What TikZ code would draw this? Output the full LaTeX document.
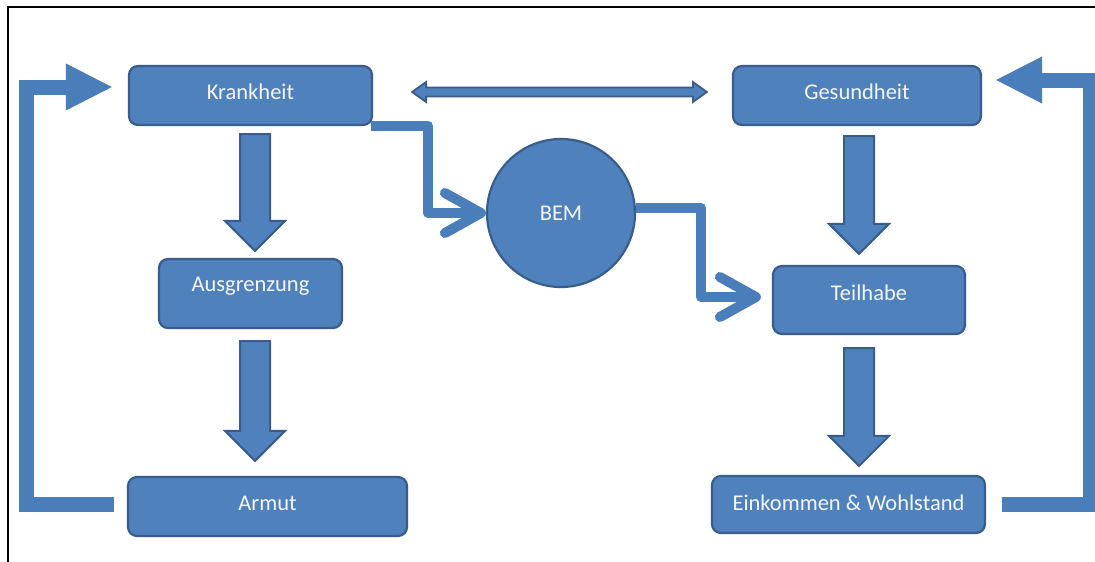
\documentclass[tikz,border=0pt]{standalone}
\usepackage{fontspec}
\setmainfont{Carlito}
\usetikzlibrary{arrows.meta,calc}
\definecolor{boxfill}{HTML}{4F81BD}
\definecolor{boxline}{HTML}{385D8A}
\definecolor{conn}{HTML}{4A7EBB}
\begin{document}
\begin{tikzpicture}[x=1pt,y=-1pt,
  box/.style={draw=boxline, fill=boxfill, line width=2.2pt, rounded corners=9pt, inner sep=0pt},
  txt/.style={text=white!96!black, font=\fontsize{22.5}{26}\selectfont},
  blockdown/.style={draw=boxline, fill=boxfill, line width=2pt, line join=miter,
    to path={let \p1=(\tikztostart),\p2=(\tikztotarget) in
      (\x1-15pt,\y1) -- (\x1-15pt,\y2+30pt) -- (\x1-30pt,\y2+30pt) -- (\x1,\y2)
      -- (\x1+30pt,\y2+30pt) -- (\x1+15pt,\y2+30pt) -- (\x1+15pt,\y1) -- cycle}},
  blockboth/.style={draw=boxline, fill=boxfill, line width=1.8pt, line join=miter,
    to path={let \p1=(\tikztostart),\p2=(\tikztotarget) in
      (\x1,\y1) -- (\x1+14pt,\y1+10pt) -- (\x1+14pt,\y1+4.5pt) -- (\x2-14pt,\y1+4.5pt)
      -- (\x2-14pt,\y1+10pt) -- (\x2,\y1) -- (\x2-14pt,\y1-10pt) -- (\x2-14pt,\y1-4.5pt)
      -- (\x1+14pt,\y1-4.5pt) -- (\x1+14pt,\y1-10pt) -- cycle}},
  elbow/.style={draw=conn, line width=10pt, line join=round,
    -{Straight Barb[length=36pt,width=40pt,line cap=round,line join=round]}},
  feedback/.style={draw=conn, line width=15pt, line join=miter,
    -{Triangle[length=46pt,width=47pt,line width=0pt]}}
]
\useasboundingbox (0,0) rectangle (1095,562);
\fill[white] (0,0) rectangle (1095,562);
\draw[line width=2pt] (8,562) -- (8,7) -- (1095,7);

\node[box, minimum width=243, minimum height=59, label={[txt,yshift=3.5pt]center:Krankheit}] (K) at (250.5,95.5) {};
\node[box, minimum width=248, minimum height=59, label={[txt,yshift=4pt]center:Gesundheit}] (G) at (857,95.5) {};
\node[box, minimum width=183, minimum height=69, label={[txt,yshift=7pt]center:Ausgrenzung}] (A) at (250.5,293.5) {};
\node[box, minimum width=192, minimum height=68, label={[txt,yshift=7pt]center:Teilhabe}] (T) at (869,300) {};
\node[box, minimum width=279, minimum height=59, label={[txt,yshift=3.5pt]center:Armut}] (Ar) at (267.5,506.5) {};
\node[box, minimum width=273, minimum height=57, label={[txt,yshift=1.5pt]center:Einkommen \& Wohlstand}] (E) at (848.5,504.5) {};
\node[draw=boxline, fill=boxfill, line width=2.2pt, circle, minimum size=148, inner sep=0pt, txt] (B) at (561,213) {BEM};

\draw[blockdown] ([xshift=4.5pt,yshift=-8pt]K.south) to ([yshift=7pt]A.north);
\draw[blockdown] ([xshift=4.5pt,yshift=-12pt]A.south) to ([yshift=15pt]Ar.north);
\draw[blockdown] ([xshift=2pt,yshift=-10pt]G.south) to ([yshift=11pt]T.north);
\draw[blockdown] ([xshift=-10pt,yshift=-13pt]T.south) to ([yshift=9pt]E.north);

\draw[blockboth] ([xshift=39pt,yshift=3.5pt]K.east) to ([xshift=-25pt,yshift=3.5pt]G.west);

\draw[elbow] ([xshift=-2pt]K.south east) -- ++(57,0) |- (B.west);
\draw[elbow] ([yshift=5pt]B.east) -- ++(65,0) |- ([xshift=-11pt,yshift=3pt]T.west);

\draw[feedback] ([xshift=-13pt,yshift=2.5pt]Ar.west) -- ++(-87.5,0) |- ([xshift=-16pt,yshift=8.5pt]K.west);
\draw[feedback] ([xshift=16pt,yshift=0.5pt]E.east) -- ++(88,0) |- ([xshift=14pt,yshift=15.5pt]G.east);
\end{tikzpicture}
\end{document}
